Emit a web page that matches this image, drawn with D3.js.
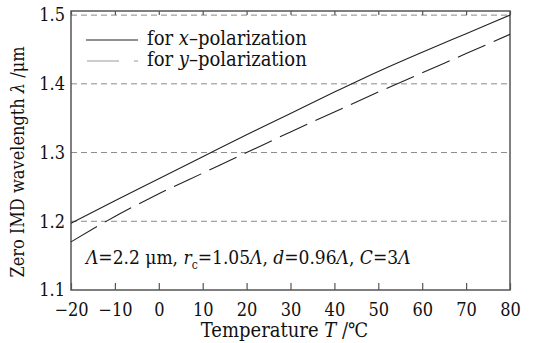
<!DOCTYPE html>
<html>
<head>
<meta charset="utf-8">
<script src="https://cdn.jsdelivr.net/npm/d3@7"></script>
<style>
  html, body { margin: 0; padding: 0; background: #fff; }
  svg { display: block; }
  text { font-family: "DejaVu Serif Condensed", "DejaVu Serif", serif; font-stretch: condensed; fill: #111; }
</style>
</head>
<body>
<svg id="chart" width="537" height="343"></svg>
<script>
// Temperature samples (°C)
const temperature = [-20, -10, 0, 10, 20, 30, 40, 50, 60, 70, 80];
// Zero-IMD wavelength (µm) for each polarization
const lambdaX = [1.197, 1.230, 1.262, 1.294, 1.326, 1.357, 1.388, 1.418, 1.446, 1.473, 1.500];
const lambdaY = [1.170, 1.207, 1.240, 1.270, 1.300, 1.330, 1.359, 1.388, 1.416, 1.444, 1.472];
// Axis ticks
const xTicks = [-20, -10, 0, 10, 20, 30, 40, 50, 60, 70, 80];
const yTicks = [1.1, 1.2, 1.3, 1.4, 1.5];
const gridValues = [1.2, 1.3, 1.4, 1.5];

const svg = d3.select("#chart");
const plotL = 71, plotR = 510, plotT = 11, plotB = 290;

const x = d3.scaleLinear().domain([-20, 80]).range([plotL, plotR]);
const y = d3.scaleLinear().domain([1.1, 1.506]).range([plotB, plotT]);

// horizontal dashed grid
svg.append("g").selectAll("line").data(gridValues).join("line")
  .attr("x1", plotL).attr("x2", plotR)
  .attr("y1", d => y(d)).attr("y2", d => y(d))
  .attr("stroke", "#8a8a8a").attr("stroke-width", 1)
  .attr("stroke-dasharray", "6,4");

// bottom axis with inward ticks
const xAxis = svg.append("g").attr("transform", `translate(0,${plotB})`)
  .call(d3.axisBottom(x).tickValues(xTicks).tickSizeInner(-7).tickSizeOuter(0)
    .tickPadding(13).tickFormat(d => d < 0 ? "\u2212" + Math.abs(d) : d));
xAxis.select(".domain").remove();
xAxis.selectAll("line").attr("stroke", "#555").attr("stroke-width", 1.2);
xAxis.selectAll("text").attr("font-size", 18).attr("font-family", null).attr("fill", "#111");

// top axis ticks
const xTop = svg.append("g").attr("transform", `translate(0,${plotT})`)
  .call(d3.axisTop(x).tickValues(xTicks).tickSizeInner(-4).tickSizeOuter(0).tickFormat(""));
xTop.select(".domain").remove();
xTop.selectAll("line").attr("stroke", "#555").attr("stroke-width", 1.2);

// left axis labels
const yAxis = svg.append("g").attr("transform", `translate(${plotL},0)`)
  .call(d3.axisLeft(y).tickValues(yTicks).tickSize(0).tickPadding(6).tickFormat(d3.format(".1f")));
yAxis.select(".domain").remove();
yAxis.selectAll("text").attr("font-size", 18).attr("font-family", null).attr("fill", "#111");

// frame
svg.append("rect").attr("x", plotL).attr("y", plotT)
  .attr("width", plotR - plotL).attr("height", plotB - plotT)
  .attr("fill", "none").attr("stroke", "#555").attr("stroke-width", 1.5);

// curves
const line = d3.line().x(d => x(d[0])).y(d => y(d[1])).curve(d3.curveMonotoneX);
svg.append("path").datum(d3.zip(temperature, lambdaX))
  .attr("d", line).attr("fill", "none").attr("stroke", "#222").attr("stroke-width", 1.1);
svg.append("path").datum(d3.zip(temperature, lambdaY))
  .attr("d", line).attr("fill", "none").attr("stroke", "#222").attr("stroke-width", 1.1)
  .attr("stroke-dasharray", "30,9");

// legend
const legend = svg.append("g");
legend.append("line").attr("x1", 86).attr("x2", 138).attr("y1", 40).attr("y2", 40)
  .attr("stroke", "#222").attr("stroke-width", 1.1);
legend.append("line").attr("x1", 87).attr("x2", 138).attr("y1", 61).attr("y2", 61)
  .attr("stroke", "#999").attr("stroke-width", 1.1).attr("stroke-dasharray", "32,15");
const lx = legend.append("text").attr("x", 147).attr("y", 45).attr("font-size", 20);
lx.append("tspan").text("for ");
lx.append("tspan").attr("font-style", "italic").text("x");
lx.append("tspan").text("\u2013polarization");
const ly = legend.append("text").attr("x", 147).attr("y", 66).attr("font-size", 20);
ly.append("tspan").text("for ");
ly.append("tspan").attr("font-style", "italic").text("y");
ly.append("tspan").text("\u2013polarization");

// parameter note
const note = svg.append("text").attr("x", 86).attr("y", 264).attr("font-size", 19);
note.append("tspan").attr("font-style", "italic").text("\u039B");
note.append("tspan").text("=2.2 \u03BCm, ");
note.append("tspan").attr("font-style", "italic").text("r");
note.append("tspan").attr("font-size", 12).attr("dy", 5).text("c");
note.append("tspan").attr("dy", -5).text("=1.05");
note.append("tspan").attr("font-style", "italic").text("\u039B");
note.append("tspan").text(", ");
note.append("tspan").attr("font-style", "italic").text("d");
note.append("tspan").text("=0.96");
note.append("tspan").attr("font-style", "italic").text("\u039B");
note.append("tspan").text(", ");
note.append("tspan").attr("font-style", "italic").text("C");
note.append("tspan").text("=3");
note.append("tspan").attr("font-style", "italic").text("\u039B");

// axis titles
const xt = svg.append("text").attr("x", 284.5).attr("y", 337).attr("text-anchor", "middle").attr("font-size", 20);
xt.append("tspan").text("Temperature ");
xt.append("tspan").attr("font-style", "italic").text("T");
xt.append("tspan").text(" /\u2103");

const yt = svg.append("text").attr("transform", "translate(24,162) rotate(-90)")
  .attr("text-anchor", "middle").attr("font-size", 18);
yt.append("tspan").text("Zero IMD wavelength ");
yt.append("tspan").attr("font-style", "italic").text("\u03BB");
yt.append("tspan").text(" /\u03BCm");
</script>
</body>
</html>
